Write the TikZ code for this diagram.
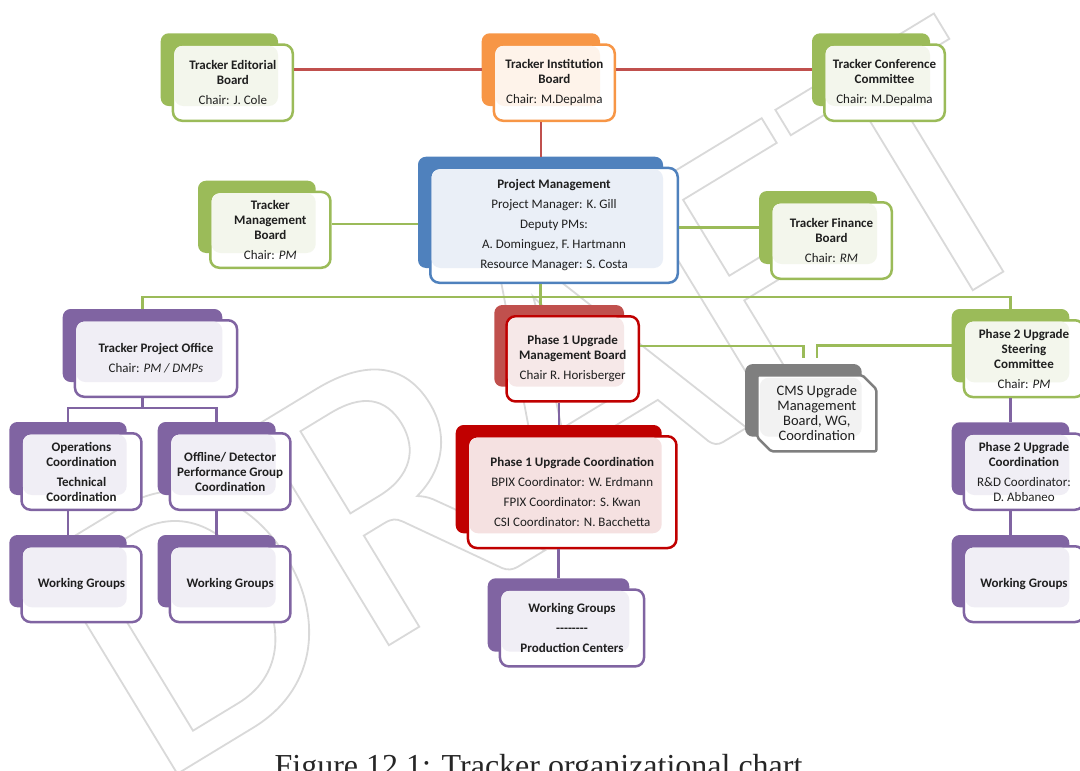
\documentclass[tikz,border=0pt]{standalone}
\usepackage{fontspec}
\newfontfamily\boxfont{Carlito}
\newfontfamily\capfont{Liberation Serif}
\definecolor{grn}{HTML}{9BBB59}\definecolor{grnline}{HTML}{9BBB59}\definecolor{grntint}{HTML}{F3F6EC}
\definecolor{org}{HTML}{F79646}\definecolor{orgline}{HTML}{F79646}\definecolor{orgtint}{HTML}{FEF3EA}
\definecolor{blu}{HTML}{4F81BD}\definecolor{bluline}{HTML}{4F81BD}\definecolor{blutint}{HTML}{EAEFF7}
\definecolor{pur}{HTML}{8064A2}\definecolor{purline}{HTML}{8064A2}\definecolor{purtint}{HTML}{F0EEF5}
\definecolor{rdl}{HTML}{C0504D}\definecolor{rdlline}{HTML}{C00000}\definecolor{rdltint}{HTML}{F6E8E8}
\definecolor{rdd}{HTML}{C00000}\definecolor{rddline}{HTML}{C00000}\definecolor{rddtint}{HTML}{F5E1E1}
\definecolor{gry}{HTML}{7F7F7F}\definecolor{gryline}{HTML}{7F7F7F}\definecolor{grytint}{HTML}{F2F2F2}
\definecolor{linered}{HTML}{C0504D}
\definecolor{wmgray}{HTML}{D9D9D9}

\begin{document}
\begin{tikzpicture}[x=1pt, y=-1pt,
  backbox/.style={rounded corners=8pt, inner sep=0pt, outer sep=0pt},
  frontbox/.style={draw, fill=white, line width=2.5pt, rounded corners=9pt, inner sep=0pt},
  boxtext/.style={font=\boxfont\fontsize{13}{15}\selectfont, align=center, inner sep=0pt, text=black!88},
  redlink/.style={draw=linered, line width=2.6pt},
  grnlink/.style={draw=grn, line width=2.6pt},
  purlink/.style={draw=pur, line width=2.6pt},
  watermark/.style={font=\boxfont\fontsize{400}{400}\selectfont, text=wmgray, inner sep=0pt}]
  \useasboundingbox (0,0) rectangle (1080,771);
  \node[watermark, rotate=31.3, anchor=base west] (draft) at (154,788)
    {\special{pdf:literal direct 1 Tr 1.8 w 0.85 G}DRAFT\special{pdf:literal direct 0 Tr}};
  \newcommand{\cmsfont}{\fontsize{14.5}{16}\selectfont}
  \newcommand{\orgbox}[7][]{
    \node[backbox, fill=#3, minimum width=#5, minimum height=#6] (#2bg) at (#4) {};
    \node[frontbox, draw=#3line, minimum width=#5+2.5pt, minimum height=#6+3.5pt, #1] (#2) at ([shift={(13.5,13)}]#2bg.center) {};
    \fill[#3tint, rounded corners=9pt] ([shift={(2.5,2.5)}]#2.north west) rectangle (#2bg.south east);
    \node[boxtext] (#2txt) at (#2) {#7};
  }
  \orgbox{edit}{grn}{219.35,69.65}{117.3pt}{72.7pt}{\textbf{Tracker Editorial}\\\textbf{Board}\\[5pt]Chair: J. Cole}
  \orgbox{inst}{org}{540.85,69.65}{118.3pt}{72.7pt}{\textbf{Tracker Institution}\\\textbf{Board}\\[5pt]Chair: M.Depalma}
  \orgbox{conf}{grn}{871,69.65}{118pt}{72.7pt}{\textbf{Tracker Conference}\\\textbf{Committee}\\[5pt]Chair: M.Depalma}
  \orgbox{pm}{blu}{540.5,212.35}{245pt}{111.3pt}{\textbf{Project Management}\\[5pt]Project Manager: K. Gill\\[5pt]Deputy PMs:\\[5pt]A. Dominguez, F. Hartmann\\[5pt]Resource Manager: S. Costa}
  \orgbox{tmb}{grn}{256.85,216.85}{117.7pt}{72.3pt}{\textbf{Tracker}\\\textbf{Management}\\\textbf{Board}\\[5pt]Chair: \textit{PM}}
  \orgbox{fin}{grn}{818,227.5}{118pt}{73pt}{\textbf{Tracker Finance}\\\textbf{Board}\\[5pt]Chair: \textit{RM}}
  \orgbox{tpo}{pur}{142.5,345.5}{159.6pt}{73pt}{\textbf{Tracker Project Office}\\[5pt]Chair: \textit{PM / DMPs}}
  \orgbox{ops}{pur}{68,458.5}{117.4pt}{73pt}{\textbf{Operations}\\\textbf{Coordination}\\[5pt]\textbf{Technical}\\\textbf{Coordination}}
  \orgbox{off}{pur}{216.7,458.5}{118pt}{73pt}{\textbf{Offline/ Detector}\\\textbf{Performance Group}\\\textbf{Coordination}}
  \orgbox{wgops}{pur}{68,571.15}{117.4pt}{72.3pt}{\textbf{Working Groups}}
  \orgbox{wgoff}{pur}{216.7,571.15}{118pt}{72.3pt}{\textbf{Working Groups}}
  \orgbox{pumb}{rdl}{559.15,345.85}{129.7pt}{81.7pt}{\textbf{Phase 1 Upgrade}\\\textbf{Management Board}\\[5pt]Chair R. Horisberger}
  \orgbox{puc}{rdd}{558.7,479.15}{206pt}{108.3pt}{\textbf{Phase 1 Upgrade Coordination}\\[5pt]BPIX Coordinator: W. Erdmann\\[5pt]FPIX Coordinator: S. Kwan\\[5pt]CSI Coordinator: N. Bacchetta}
  \orgbox{puwg}{pur}{558.5,615}{141.6pt}{73.4pt}{\textbf{Working Groups}\\[5pt]\textbf{-{}-{}-{}-{}-{}-{}-{}-}\\[5pt]\textbf{Production Centers}}
  \orgbox[draw=none, rounded corners=2pt, outer sep=0pt]{cms}{gry}{803.35,400.35}{116.7pt}{72.7pt}{\cmsfont CMS Upgrade\\\cmsfont Management\\\cmsfont Board, WG,\\\cmsfont Coordination}
  \draw[gryline, line width=2.5pt, rounded corners=2pt] (cms.north west) -- ([xshift=-14pt]cms.north east) -- ([yshift=-14pt]cms.north east)
    -- (cms.south east) -- ([xshift=14pt]cms.south west) -- ([yshift=14pt]cms.south west) -- cycle;
  \orgbox{ptsc}{grn}{1010.5,345.65}{117.6pt}{73.3pt}{\textbf{Phase 2 Upgrade}\\\textbf{Steering}\\\textbf{Committee}\\[5pt]Chair: \textit{PM}}
  \orgbox{ptc}{pur}{1010.5,458.65}{117.6pt}{72.7pt}{\textbf{Phase 2 Upgrade}\\\textbf{Coordination}\\[5pt]R\&D Coordinator:\\D. Abbaneo}
  \orgbox{ptwg}{pur}{1010.5,571.15}{117.6pt}{72.3pt}{\textbf{Working Groups}}
  \draw[redlink] (editbg.center -| edit.east) -- (instbg.west);
  \draw[redlink] (instbg.center -| inst.east) -- (confbg.west);
  \draw[redlink] (instbg.center |- inst.south) -- (instbg.center |- pmbg.north);
  \coordinate[yshift=-7pt] (tmbout) at (tmbbg.center -| tmb.east);
  \draw[grnlink] (tmbout) -- (tmbout -| pmbg.west);
  \draw[grnlink] (pm.east |- finbg.center) -- (finbg.west);
  \coordinate[yshift=-13pt] (bus) at (pmbg.center |- pm.south);
  \draw[grnlink] (pmbg.center |- pm.south) -- (pmbg.center |- pumbbg.north);
  \draw[grnlink] (tpobg.north) |- (bus) -| (ptscbg.north);
  \coordinate[yshift=6pt] (cmstop) at (cmsbg.north);
  \draw[grnlink] (pumbbg.center -| pumb.east) -| (cmstop);
  \draw[grnlink] (ptscbg.west) -| (cmstop -| cms.north);
  \coordinate[yshift=-10pt] (tpojoin) at (tpobg.center |- tpo.south);
  \draw[purlink] (tpobg.center |- tpo.south) -- (tpojoin);
  \draw[purlink] (opsbg.north) |- (tpojoin) -| (offbg.north);
  \draw[purlink] (opsbg.center |- ops.south) -- (wgopsbg.north);
  \draw[purlink] (offbg.center |- off.south) -- (wgoffbg.north);
  \draw[purlink] (pumbbg.center |- pumb.south) -- (pumbbg.center |- pucbg.north);
  \draw[purlink] (pucbg.center |- puc.south) -- (pucbg.center |- puwgbg.north);
  \draw[purlink] (ptscbg.center |- ptsc.south) -- (ptcbg.north);
  \draw[purlink] (ptcbg.center |- ptc.south) -- (ptwgbg.north);
  \node[font=\capfont\fontsize{32}{36}\selectfont, anchor=base, inner sep=0pt, text=black!85] (caption) at (538.5,776) {Figure 12.1: Tracker organizational chart};
\end{tikzpicture}
\end{document}
